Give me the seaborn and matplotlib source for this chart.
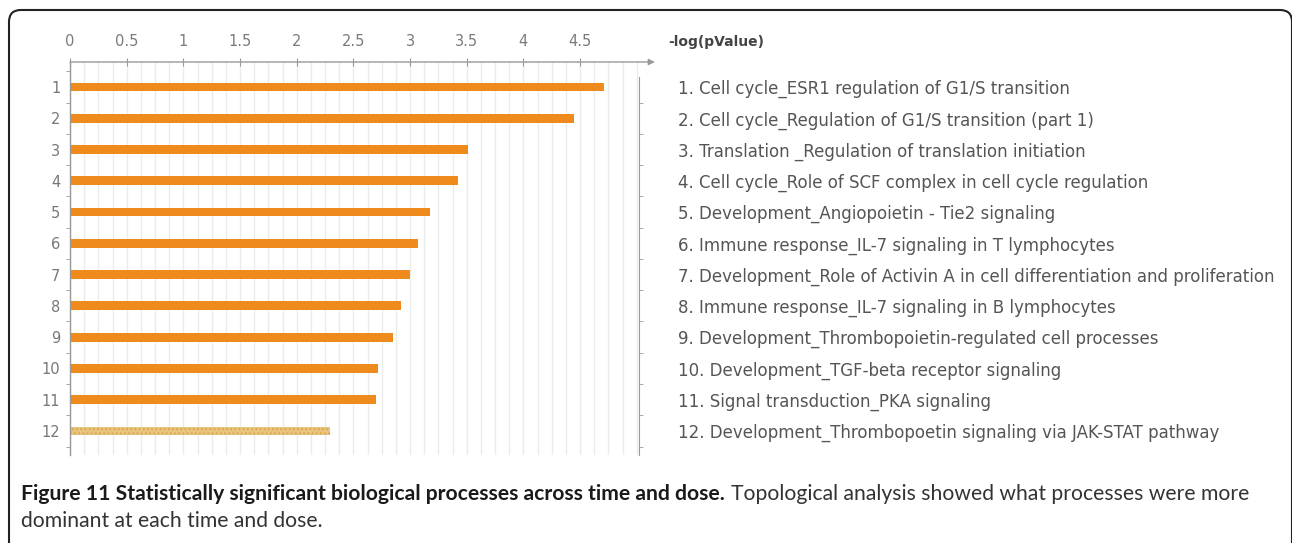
import matplotlib
matplotlib.use("Agg")
import matplotlib.pyplot as plt
import matplotlib.transforms as mtransforms
from matplotlib.patches import FancyBboxPatch
from matplotlib.ticker import MultipleLocator, FixedLocator
import seaborn as sns
import pandas as pd

# ---------------- data ----------------
ranks = [str(i) for i in range(1, 13)]
processes = [
    "Cell cycle_ESR1 regulation of G1/S transition",
    "Cell cycle_Regulation of G1/S transition (part 1)",
    "Translation _Regulation of translation initiation",
    "Cell cycle_Role of SCF complex in cell cycle regulation",
    "Development_Angiopoietin - Tie2 signaling",
    "Immune response_IL-7 signaling in T lymphocytes",
    "Development_Role of Activin A in cell differentiation and proliferation",
    "Immune response_IL-7 signaling in B lymphocytes",
    "Development_Thrombopoietin-regulated cell processes",
    "Development_TGF-beta receptor signaling",
    "Signal transduction_PKA signaling",
    "Development_Thrombopoetin signaling via JAK-STAT pathway",
]
neg_log_p = [4.71, 4.45, 3.51, 3.42, 3.18, 3.07, 3.00, 2.92, 2.85, 2.72, 2.70, 2.29]
x_ticks = [0, 0.5, 1, 1.5, 2, 2.5, 3, 3.5, 4, 4.5]
x_tick_labels = ["0", "0.5", "1", "1.5", "2", "2.5", "3", "3.5", "4", "4.5"]
axis_title = "-log(pValue)"
caption_bold = "Figure 11 Statistically significant biological processes across time and dose."
caption_line1 = "Topological analysis showed what processes were more"
caption_line2 = "dominant at each time and dose."

bar_colors = ["#EF8A1D"] * 11 + ["#E9C47C"]

df = pd.DataFrame({"rank": ranks, "value": neg_log_p})

# ---------------- figure ----------------
W, H = 1292, 543
fig = plt.figure(figsize=(W / 100, H / 100), dpi=100)
fig.patch.set_facecolor("white")
plt.rcParams["hatch.linewidth"] = 0.8

ax_left, ax_right, ax_top, ax_bottom = 70, 639, 62, 455
ax = fig.add_axes([ax_left / W, 1 - ax_bottom / H, (ax_right - ax_left) / W, (ax_bottom - ax_top) / H])
ax.set_facecolor("white")

sns.barplot(data=df, x="value", y="rank", hue="rank", palette=bar_colors, orient="h",
            width=0.28, legend=False, ax=ax, saturation=1, edgecolor="none", linewidth=0)

# last bar: pale dotted texture
last = ax.patches[11]
last.set_hatch("....")
last.set_edgecolor("#D9A54F")
last.set_linewidth(0)

y_top, y_bot = -0.80, 11.77
ax.set_xlim(0, 5.02)
ax.set_ylim(y_bot, y_top)
ax.set_xlabel("")
ax.set_ylabel("")

# grid
ax.xaxis.set_minor_locator(MultipleLocator(0.125))
ax.grid(which="both", axis="x", color="#ebebeb", linewidth=1)
ax.set_axisbelow(True)

# top axis
ax.xaxis.tick_top()
ax.set_xticks(x_ticks)
ax.set_xticklabels(x_tick_labels)
ax.tick_params(axis="x", which="major", direction="inout", length=6, color="#999999",
               labelcolor="#7a7a7a", labelsize=10.5, pad=6)
ax.tick_params(axis="x", which="minor", length=0)

# left axis
ax.yaxis.set_minor_locator(FixedLocator([i + 0.5 for i in range(-1, 12)]))
ax.tick_params(axis="y", which="major", length=0, labelcolor="#777777", labelsize=10.5, pad=7)
ax.tick_params(axis="y", which="minor", length=3, direction="out", color="#999999")

for s in ["top", "right", "bottom"]:
    ax.spines[s].set_visible(False)
ax.spines["left"].set_color("#999999")
ax.spines["left"].set_linewidth(1)

# top arrow line
ax.annotate("", xy=(5.16, y_top), xytext=(0, y_top), xycoords="data",
            arrowprops=dict(arrowstyle="-|>", color="#999999", lw=1, mutation_scale=9,
                            shrinkA=0, shrinkB=0), annotation_clip=False)

# right axis with process names
ax2 = ax.twinx()
ax2.set_ylim(ax.get_ylim())
ax2.set_yticks(range(12))
ax2.set_yticklabels([f"{r}. {p}" for r, p in zip(ranks, processes)])
ax2.yaxis.set_minor_locator(FixedLocator([i + 0.5 for i in range(0, 12)]))
ax2.tick_params(axis="y", which="major", length=0, labelcolor="#555555", labelsize=12, pad=28)
ax2.tick_params(axis="y", which="minor", length=3, direction="out", color="#999999")
for s in ["top", "left", "bottom"]:
    ax2.spines[s].set_visible(False)
ax2.spines["right"].set_color("#999999")
ax2.spines["right"].set_bounds(-0.32, y_bot)

fig.text(668 / W, 1 - 42 / H, axis_title, ha="left", va="center", fontsize=10,
         fontweight="bold", color="#444444")

# caption
cap_font = "Lato"
cap_size = 15.2
t1 = fig.text(21 / W, 1 - 494 / H, caption_bold, ha="left", va="center",
              fontsize=cap_size, fontweight="bold", family=cap_font, color="#1a1a1a")
fig.canvas.draw()
bb = t1.get_window_extent(renderer=fig.canvas.get_renderer())
fig.text((bb.x1 + 6) / W, 1 - 494 / H, caption_line1, ha="left", va="center",
         fontsize=cap_size, family=cap_font, color="#333333")
fig.text(21 / W, 1 - 521 / H, caption_line2, ha="left", va="center",
         fontsize=cap_size, family=cap_font, color="#333333")

# rounded frame
frame = FancyBboxPatch((9, -40), 1283, 573, boxstyle="round,pad=0,rounding_size=12",
                       transform=mtransforms.IdentityTransform(), facecolor="none",
                       edgecolor="#222222", linewidth=1.5)
fig.add_artist(frame)

fig.savefig("out.png", dpi=100, facecolor="white")
